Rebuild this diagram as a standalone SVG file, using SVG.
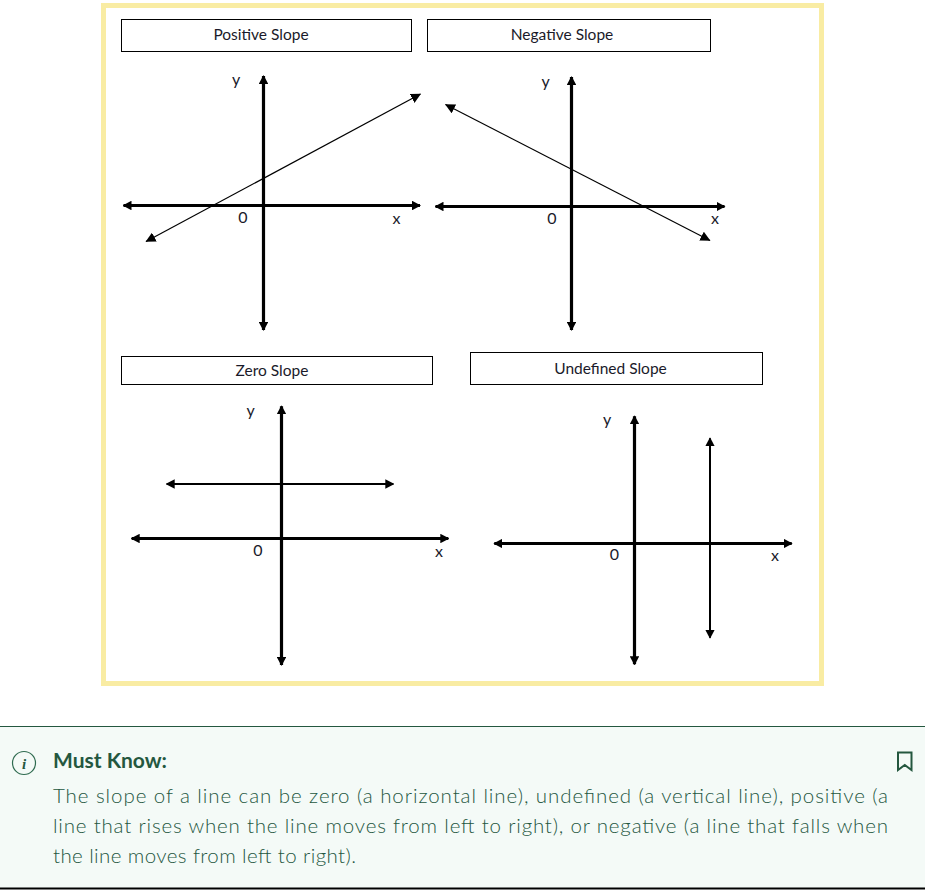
<svg xmlns="http://www.w3.org/2000/svg" width="925" height="890" viewBox="0 0 925 890">
<style>
.box{fill:#fff;stroke:#000;stroke-width:1}
.lab{font:15.5px "Lato","Liberation Sans",sans-serif;fill:#1a1a2a;text-anchor:middle}
.ax{font:16px "Lato","Liberation Sans",sans-serif;fill:#1a1a2a;text-anchor:middle}
.axis{stroke:#000;stroke-width:3.200;fill:none;marker-start:url(#a);marker-end:url(#a)}
.mid{stroke:#000;stroke-width:2;fill:none;marker-start:url(#a);marker-end:url(#a)}
.thin{stroke:#000;stroke-width:1.200;fill:none;marker-start:url(#b);marker-end:url(#b)}
.body{font:300 20.5px "Lato","Liberation Sans",sans-serif;fill:#24573f}
.head{font:bold 21px "Lato","Liberation Sans",sans-serif;fill:#24573f}
</style>
<defs>
<marker id="a" viewBox="0 0 9 9.500" refX="8" refY="4.750" markerWidth="9" markerHeight="9.500" markerUnits="userSpaceOnUse" orient="auto-start-reverse"><path d="M0 0L9 4.750L0 9.500z"/></marker>
<marker id="b" viewBox="0 0 10 10" refX="9.500" refY="5" markerWidth="10" markerHeight="10" markerUnits="userSpaceOnUse" orient="auto-start-reverse"><path d="M0 0L10 5L0 10z"/></marker>
</defs>
<rect width="925" height="890" fill="#fff"/>
<rect id="frame" x="103.500" y="5.500" width="718" height="678" fill="#fff" stroke="#f9eca3" stroke-width="5"/>
<g id="connectors">
<path class="axis" d="M263.500 76V330"/><path class="axis" d="M123.500 205.500H420"/><path class="thin" d="M146 241.500L420.500 94"/>
<path class="axis" d="M571.500 77V330"/><path class="axis" d="M435.500 206.500H724.500"/><path class="thin" d="M445.500 104.500L710 240.500"/>
<path class="axis" d="M281.500 406.300V665"/><path class="axis" d="M131.700 538.500H448.300"/><path class="mid" d="M166.700 484H393.300"/>
<path class="axis" d="M634.500 416.300V664.300"/><path class="axis" d="M494.300 543.500H791.700"/><path class="mid" d="M710 438.300V637.700"/>
</g>
<g id="positive-slope"><rect class="box" x="121.500" y="19.500" width="290" height="32"/><text class="lab" x="261" y="40">Positive Slope</text><text class="ax" x="236" y="85">y</text><text class="ax" x="243" y="223">0</text><text class="ax" x="396.500" y="224">x</text></g>
<g id="negative-slope"><rect class="box" x="427.500" y="19.500" width="283" height="32"/><text class="lab" x="562" y="40">Negative Slope</text><text class="ax" x="545.500" y="87">y</text><text class="ax" x="552" y="224">0</text><text class="ax" x="715" y="224">x</text></g>
<g id="zero-slope"><rect class="box" x="121.500" y="356.500" width="311" height="28"/><text class="lab" x="272" y="376">Zero Slope</text><text class="ax" x="250.500" y="416">y</text><text class="ax" x="258" y="556">0</text><text class="ax" x="439" y="557">x</text></g>
<g id="undefined-slope"><rect class="box" x="470.500" y="352.500" width="292" height="32"/><text class="lab" x="610.500" y="374">Undefined Slope</text><text class="ax" x="607" y="425">y</text><text class="ax" x="614.500" y="560">0</text><text class="ax" x="775" y="561">x</text></g>
<g id="must-know">
<rect x="0" y="726.500" width="925" height="162" fill="#f4faf7"/>
<path d="M0 726.500H925" stroke="#24573f" stroke-width="1"/>
<path d="M0 888.500H925" stroke="#000" stroke-width="2"/>
<circle cx="24" cy="763" r="11.500" fill="none" stroke="#2f6b50" stroke-width="1.200"/>
<text x="24" y="769" font-family="Liberation Serif,serif" font-style="italic" font-weight="bold" font-size="15" fill="#24573f" text-anchor="middle">i</text>
<text class="head" x="53" y="768">Must Know:</text>
<path d="M898 752.500H911.500V770L904.750 765L898 770Z" fill="none" stroke="#24573f" stroke-width="2"/>
<text class="body" x="53" y="803" textLength="835">The slope of a line can be zero (a horizontal line), undefined (a vertical line), positive (a</text>
<text class="body" x="53" y="833" textLength="835">line that rises when the line moves from left to right), or negative (a line that falls when</text>
<text class="body" x="53" y="863" textLength="303">the line moves from left to right).</text>
</g>
</svg>
